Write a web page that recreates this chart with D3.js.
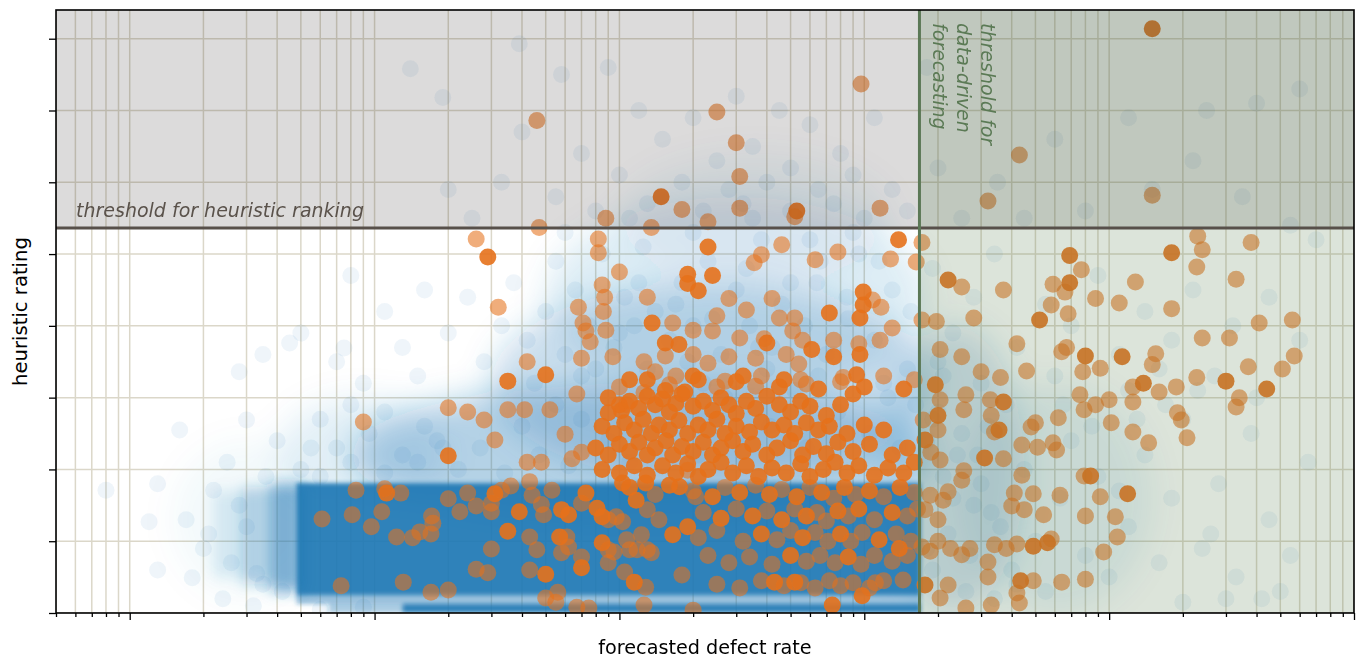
<!DOCTYPE html>
<html><head><meta charset="utf-8">
<script src="https://cdn.jsdelivr.net/npm/d3@7"></script>
<style>body{margin:0;background:#fff}svg{display:block}</style>
</head><body>
<svg id="chart" width="1362" height="659"></svg>
<script>
// ---------------- data ----------------
const xMajorTicks = [0.001, 0.01, 0.1, 1, 10, 100];
const yTicks = [0, 1, 2, 3, 4, 5, 6, 7, 8];
const heuristicThreshold = 5.363;
const dataDrivenThreshold = 1.68;
const xLabel = "forecasted defect rate";
const yLabel = "heuristic rating";
const heuristicText = "threshold for heuristic ranking";
const dataDrivenText = ["threshold for", "data-driven", "forecasting"];

// dense blue region (x0, x1, y0, y1, relative density)
const blueBand = [
  [0.0048, 1.7, 0.25, 1.81, 1.0],
  [0.013, 1.7, 0.0, 0.125, 1.0],
  [0.0048, 1.7, 0.125, 0.25, 0.5],
  [0.0065, 0.013, 0.0, 0.125, 0.4]
];
// fuzzy left edge of the dense region
const blueBandEdge = [
  [0.0038, 0.0052, 0.3, 1.8, 0.6],
  [0.0029, 0.0040, 0.4, 1.75, 0.32],
  [0.0022, 0.0031, 0.5, 1.7, 0.14]
];
// diffuse blue cloud (elliptic extents: x0, x1, y0, y1, relative density)
const blueHaze = [
  [0.008, 1.9, 1.2, 3.2, 0.36],
  [0.03, 1.9, 1.8, 4.6, 0.26],
  [0.05, 1.8, 3.0, 5.8, 0.14],
  [0.1, 1.3, 4.6, 6.4, 0.07],
  [1.2, 4.5, 0.0, 4.0, 0.22],
  [2.5, 15, 0.0, 3.2, 0.1],
  [0.0015, 0.006, 0.2, 2.4, 0.05],
  [0.004, 0.02, 1.4, 3.0, 0.12]
];
const blueFaint = [
  [0.014,7.58],[0.019,7.18],[0.039,7.93],[0.058,7.5],[0.09,7.6],[0.12,7.0],[0.2,6.9],[0.3,7.2],[0.45,7.0],[0.6,6.8],
  [0.15,6.6],[0.25,6.3],[0.35,6.5],[0.5,6.2],[0.8,6.4],[1.1,6.9],[0.07,6.4],[0.04,6.7],[0.1,6.1],[0.18,6.0],
  [0.28,5.9],[0.4,6.0],[0.65,5.9],[0.9,6.1],[1.3,5.9],[2.0,6.2],[3.5,6.0],[6,6.6],[12,6.9],[25,7.0],
  [40,7.1],[60,7.3],[1.8,7.6],[0.033,6.0],[0.055,5.8],[0.08,5.6],[0.13,5.7],[0.22,5.6],[0.32,5.7],[0.5,5.6],
  [0.75,5.7],[1.0,5.5],[1.5,5.6],[2.5,5.5],[4.5,5.5],[8,5.6],[15,5.9],[22,6.3],[35,5.8],[55,5.4],[70,5.2],[0.02,5.9],[0.025,5.5],
  [0.0035,3.6],[0.005,3.9],[0.007,3.5],[0.008,4.7],[0.011,4.2],[0.013,3.7],[0.016,4.5],[0.02,3.9],[0.024,4.4],[0.028,3.5],
  [0.033,4.0],[0.037,4.6],[0.042,3.8],[0.05,4.2],[0.055,4.9],[0.06,3.6],[0.066,4.5],[0.075,4.0],[0.085,5.0],[0.095,3.7],
  [0.105,4.4],[0.115,4.0],[0.125,5.1],[0.14,4.2],[0.16,3.8],[0.18,4.6],[0.2,4.0],[0.23,4.9],[0.26,3.6],[0.3,4.5],
  [0.34,4.0],[0.38,5.2],[0.42,3.7],[0.5,4.6],[0.57,4.0],[0.66,4.9],[0.75,3.6],[0.85,4.4],[0.95,5.0],[1.1,3.8],
  [1.3,4.5],[1.5,3.4],[1.9,4.8],[2.3,3.9],[2.8,4.4],[3.4,5.0],[4.2,3.7],[5.5,4.3],[7,4.0],[9,4.7],
  [11,3.6],[14,4.2],[18,3.8],[22,4.5],[27,3.3],[32,4.0],[45,4.4],[60,3.8],[0.009,3.2],[0.015,3.3],
  [0.045,3.2],[0.07,3.3],[0.13,3.4],[0.22,3.2],[0.4,3.4],[0.65,3.3],[1.2,3.2],[2.0,3.5],[3.0,3.2],[6,3.3],[12,3.1],[16,3.4],[40,3.0],
  [0.0008,1.71],[0.0012,1.27],[0.0016,2.55],[0.0018,0.49],[0.0022,1.71],[0.0028,3.36],[0.003,2.69],[0.0045,3.76],[0.0075,3.69],[0.0013,0.6],
  [0.002,0.9],[0.0025,2.1],[0.003,1.2],[0.0035,0.4],[0.004,2.4],[0.005,2.0],[0.006,2.7],[0.007,2.3],[0.008,2.9],[0.0095,2.5],
  [0.011,2.8],[0.013,2.2],[0.016,2.6],[0.019,2.3],[0.0013,1.8],[0.0017,1.3],[0.0024,0.2],[0.0032,0.1],[0.006,0.05],[0.009,0.08],[0.0055,2.3],
  [2.0,2.8],[2.4,2.2],[2.8,1.5],[3.2,2.6],[3.6,1.2],[4.0,0.6],[4.5,2.0],[5,1.0],[5.5,0.3],[6.3,1.6],
  [7,2.4],[8,0.8],[9,1.9],[10,0.5],[12,1.2],[14,2.2],[16,0.7],[18,1.6],[20,2.7],[24,0.9],
  [28,1.8],[33,0.5],[38,2.5],[45,1.3],[55,0.8],[65,2.1],[1.9,0.6],[2.2,1.1],[2.6,0.3],[3,1.8],
  [3.4,0.2],[1.8,2.4],[2.1,1.9],[2.5,2.5],[13,2.7],[17,2.9],[23,3.1],[8.5,2.6],[11,1.7],[6.5,2.9],[26,1.1],[30,0.2],[20,0.15],[50,0.3],[42,0.2],
  [0.022,2.0],[0.027,2.3],[0.034,1.95],[0.04,2.6],[0.047,2.2],[0.055,2.9],[0.062,2.05],[0.07,2.7],[0.08,3.4],[0.09,2.4],
  [0.1,3.9],[0.11,2.1],[0.12,4.6],[0.135,3.1],[0.15,2.6],[0.17,4.3],[0.19,3.5],[0.21,2.2],[0.24,4.1],[0.27,3.0],
  [0.3,2.4],[0.33,4.8],[0.37,3.7],[0.41,2.6],[0.46,4.3],[0.52,3.1],[0.58,2.3],[0.64,4.6],[0.7,3.6],[0.78,2.8],
  [0.86,4.1],[0.94,3.3],[1.05,2.5],[1.15,4.9],[1.25,3.0],[1.4,2.3],[1.55,4.2],[1.62,2.9],[0.011,1.95],[0.015,2.1],
  [0.018,2.4],[0.006,1.9],[0.008,2.1],[1.8,0.9],[1.9,2.7],[2.1,3.3],[2.3,1.6],[2.7,0.8],[2.9,2.2],[3.3,1.4],
  [3.8,2.9],[4.2,0.4],[0.06,5.3],[0.11,5.5],[0.2,5.3],[0.35,5.5],[0.6,5.2],[0.9,5.3],
  [0.0021,1.1],[0.0026,0.7],[0.0028,1.5],[0.0033,0.55],[0.0036,1.9],[0.0042,0.3]
];

const orangeStrong = [
  [15,8.14],[0.148,5.8],[0.53,5.6],
  [0.029,4.96],[0.23,5.1],[1.38,5.2],[6.9,4.98],[18,5.02],
  [0.19,4.72],[0.24,4.7],[0.21,4.49],[0.19,4.59],[0.99,4.47],[2.2,4.64],[6.9,4.6],
  [0.136,4.04],[0.72,4.18],[0.99,4.29],[0.96,4.11],[5.2,4.08],
  [0.035,3.23],[0.05,3.32],[0.11,3.25],[0.154,3.76],[0.175,3.74],[0.40,3.76],[0.61,3.67],[0.75,3.57],[0.96,3.6],[0.93,3.32],
  [0.47,3.25],[0.32,3.3],[0.21,3.25],[8,3.58],[11.3,3.57],[13.8,3.2],[30,3.23],[44,3.12],[1.95,3.18],
  [0.185,3.08],[0.154,3.1],[0.09,2.79],[0.102,2.82],[3.7,2.94],[2.0,2.75],
  [0.02,2.19],[3.55,2.55],[3.1,2.16],[1.77,2.41],
  [8.4,1.91],[11.9,1.66],
  [4.35,0.45],[4.9,0.93],[5.6,0.98],[1.77,0.39],[1.39,0.9],[0.98,0.24],[0.74,0.11],[0.43,0.43],[0.52,0.43],
  [0.0112,1.67],[0.031,1.66],[0.035,1.14],[0.039,1.41],[0.05,0.54],[0.058,1.44],[0.062,1.37],[0.057,1.06],[0.07,0.63],
  [0.073,1.67],[0.081,1.46],[0.085,1.34],[0.085,0.98],[0.115,0.43],[0.165,1.09],[0.19,1.2],[0.103,1.81],[0.117,1.57],[0.128,1.81],[0.176,1.76],
  [0.09,3.0],[0.1,2.9],[0.11,2.95],[0.12,2.85],[0.13,3.02],[0.14,2.9],[0.15,2.98],[0.16,2.8],[0.17,2.92],[0.18,3.05],
  [0.2,2.88],[0.22,2.95],[0.24,2.82],[0.26,3.0],[0.28,2.9],[0.3,2.78],[0.33,2.95],[0.36,2.85],[0.4,3.02],[0.45,2.9],
  [0.5,2.8],[0.55,2.95],[0.6,2.88],[0.7,2.75],[0.8,2.9],[0.9,3.05],
  [0.085,2.6],[0.095,2.5],[0.105,2.65],[0.115,2.55],[0.125,2.7],[0.135,2.5],[0.145,2.62],[0.16,2.55],[0.175,2.68],[0.19,2.5],
  [0.21,2.62],[0.23,2.55],[0.25,2.7],[0.27,2.5],[0.3,2.6],[0.34,2.52],[0.38,2.66],[0.42,2.55],[0.47,2.62],[0.52,2.5],
  [0.58,2.65],[0.65,2.55],[0.72,2.6],[0.85,2.5],[1.0,2.62],[1.2,2.55],
  [0.08,2.3],[0.09,2.2],[0.1,2.35],[0.11,2.25],[0.12,2.38],[0.13,2.2],[0.14,2.3],[0.155,2.4],[0.165,2.2],[0.18,2.32],
  [0.2,2.25],[0.22,2.38],[0.24,2.2],[0.26,2.3],[0.29,2.4],[0.32,2.25],[0.35,2.35],[0.4,2.2],[0.44,2.3],[0.5,2.4],
  [0.56,2.2],[0.62,2.32],[0.7,2.22],[0.78,2.38],[0.9,2.25],[1.05,2.35],[1.3,2.2],[1.5,2.3],
  [0.085,2.0],[0.1,1.95],[0.115,2.05],[0.13,1.92],[0.15,2.05],[0.17,1.95],[0.19,2.08],[0.21,1.9],[0.23,2.0],[0.26,2.1],
  [0.29,1.95],[0.33,2.05],[0.37,1.9],[0.42,2.02],[0.48,1.95],[0.55,2.08],[0.6,1.9],[0.68,2.0],[0.76,2.1],[0.85,1.95],
  [0.95,2.05],[1.1,1.92],[1.25,2.02],[1.45,1.95],[1.6,2.1],
  [0.11,1.75],[0.16,1.78],[0.24,1.62],[0.31,1.68],[0.41,1.65],[0.53,1.62],[0.67,1.68],[0.83,1.75],[1.05,1.7],[1.4,1.75],
  [0.26,1.32],[0.35,1.35],[0.46,1.3],[0.58,1.35],[0.78,1.42],[0.95,1.45],[1.3,1.4],
  [0.38,1.1],[0.56,1.05],[0.8,1.1],[1.15,1.02],[0.5,0.8],[0.86,0.78],
  [0.13,3.25],[0.2,3.3],[0.3,3.22],[0.45,3.15],[0.65,3.12],[1.0,3.15],[1.45,3.12]
];

const orangeFaint = [
  [0.97,7.37],[0.25,6.98],[0.046,6.86],[0.30,6.55],[0.31,6.08],[4.3,6.38],[0.31,5.64],[0.18,5.62],[0.52,5.52],[1.16,5.64],
  [3.2,5.74],[15,5.82],[0.088,5.5],[0.047,5.37],[0.135,5.37],[0.23,5.45],
  [0.026,5.21],[0.082,5.21],[0.082,5.02],[0.355,4.88],[0.38,4.99],[0.46,5.13],[0.63,4.92],[0.78,5.03],[1.28,4.93],[1.63,4.89],
  [1.72,5.16],[23,5.25],[38,5.16],[24,5.06],
  [0.10,4.75],[0.085,4.57],[0.13,4.4],[0.28,4.38],[0.42,4.38],[1.08,4.36],[2.5,4.54],[3.7,4.5],[7.7,4.78],[5.9,4.58],
  [12.8,4.61],[33,4.65],[22.8,4.82],[8.8,4.38],[6.6,4.47],[0.087,4.4],[0.032,4.26],
  [0.068,4.26],[0.071,4.04],[0.088,3.94],[0.086,4.2],[0.165,4.04],[0.20,3.94],[0.24,3.93],[0.25,4.14],[0.31,3.83],[0.33,4.22],
  [0.39,3.82],[0.45,4.11],[0.52,4.11],[0.51,3.93],[0.56,3.8],[0.75,3.8],[0.95,3.75],[1.16,3.8],[1.17,4.26],[1.3,3.97],
  [1.72,4.08],[1.97,4.06],[2.8,4.11],[11,4.32],[5.8,4.29],[6.8,4.17],[18,4.24],[41,4.04],[56,4.08],[24,3.83],[31,3.83],[0.073,3.93],[0.076,3.78],
  [0.042,3.5],[0.07,3.55],[0.094,3.57],[0.126,3.5],[0.14,3.36],[0.154,3.58],[0.2,3.6],[0.17,3.3],[0.23,3.48],[0.28,3.57],
  [0.36,3.55],[0.48,3.6],[0.54,3.47],[0.82,3.28],[2.04,3.67],[2.5,3.57],[3.0,3.36],[3.6,3.28],[4.6,3.37],[4.2,3.75],
  [6.4,3.64],[7.8,3.36],[9.2,3.41],[15.5,3.61],[15,3.46],[22.8,3.28],[37,3.43],[51,3.4],[57,3.58],[12.5,3.15],[18.8,3.15],[16,3.08],[6.7,3.7],
  [0.067,3.05],[0.020,2.86],[0.024,2.8],[0.028,2.69],[0.035,2.83],[0.041,2.83],[0.052,2.83],[0.009,2.66],[0.126,3.07],[0.107,2.9],
  [0.36,3.16],[0.27,3.23],[0.58,3.19],[2.04,2.97],[2.6,3.04],[2.55,2.83],[3.27,2.97],[3.3,2.75],[7.6,3.04],[7.9,2.83],
  [10,2.97],[8.8,2.9],[12.5,2.94],[34,3.0],[33,2.87],[19,2.79],[6.2,2.72],[1.74,2.69],
  [0.031,2.41],[0.042,2.1],[0.048,2.1],[0.06,2.49],[0.064,2.15],[0.07,2.24],[10.2,2.65],[12.5,2.52],[14.5,2.37],[19.7,2.69],
  [20.8,2.44],[5.9,2.37],[5.1,2.31],[5.0,2.65],[3.4,2.52],[4.4,2.34],[4.8,2.59],[6.1,2.27],[2.0,2.55],[1.87,2.24],[2.04,2.13],[3.7,2.15],
  [4.4,1.92],[7.9,1.91],[9.2,1.62],[6.3,1.64],[4.9,1.66],[4.1,1.67],[4.0,1.49],[4.5,1.44],[5.4,1.37],[8.0,1.35],
  [10.6,1.34],[2.5,1.85],[2.55,1.98],[2.2,1.69],[1.86,1.64],[1.77,1.44],[2.1,1.57],[2.0,1.3],
  [10.8,1.06],[9.5,0.85],[8.0,0.47],[6.4,0.43],[4.9,0.45],[5.8,1.03],[4.2,0.96],[3.8,0.9],[3.4,0.95],[3.2,0.5],
  [3.3,0.11],[4.3,0.14],[4.2,0.28],[3.2,0.71],[2.5,0.81],[2.25,0.9],[2.0,1.0],[1.86,0.86],[2.7,0.9],[2.2,0.39],
  [2.04,0.21],[2.6,0.07],[1.44,0.46],[1.11,0.42],[1.72,0.92],
  [0.0084,1.71],[0.011,1.73],[0.0128,1.67],[0.0061,1.31],[0.0081,1.37],[0.0097,1.2],[0.0107,1.41],[0.0123,1.06],[0.0143,1.05],[0.0153,1.13],
  [0.0171,1.35],[0.0173,1.25],[0.017,1.1],[0.0073,0.38],[0.0131,0.43],[0.017,0.29],[0.02,0.32],[0.02,1.59],[0.0223,1.41],[0.026,1.49],
  [0.03,1.41],[0.03,1.53],[0.024,1.67],[0.03,0.89],[0.026,0.61],[0.029,0.56],[0.043,1.83],[0.036,1.77],[0.033,1.71],[0.044,1.64],
  [0.048,1.51],[0.049,1.37],[0.043,1.06],[0.046,0.88],[0.043,0.6],[0.05,0.21],[0.056,0.29],[0.055,0.15],[0.053,1.71],[0.061,1.06],
  [0.058,0.84],[0.062,0.92],[0.07,0.78],[0.067,0.08],[0.075,0.07],[0.07,1.53],[0.09,1.3],[0.097,1.34],[0.103,1.27],[0.09,0.88],
  [0.095,0.85],[0.09,0.7],[0.105,0.57],[0.128,0.36],[0.126,0.11],[0.107,1.02],[0.11,0.88],[0.123,1.09],[0.118,0.88],[0.13,0.88],
  [0.135,0.84],[0.18,0.53],[0.2,0.04],[0.13,1.44],[0.145,1.3],[0.19,1.99],[0.205,1.62],
  [0.14,1.65],[0.2,1.7],[0.27,1.75],[0.36,1.78],[0.46,1.72],[0.6,1.75],[0.75,1.6],[0.92,1.65],[1.2,1.62],[1.6,1.68],
  [0.22,1.4],[0.3,1.45],[0.4,1.42],[0.52,1.45],[0.64,1.4],[0.7,1.28],[0.86,1.35],[1.1,1.3],[1.5,1.35],[1.65,1.45],
  [0.21,1.05],[0.25,1.15],[0.32,1.0],[0.44,1.02],[0.5,1.15],[0.63,1.12],[0.71,1.0],[0.88,1.0],[0.98,1.12],[1.35,1.1],[1.55,1.0],
  [0.23,0.8],[0.28,0.7],[0.34,0.78],[0.42,0.68],[0.58,0.72],[0.66,0.8],[0.76,0.7],[0.97,0.68],[1.1,0.8],[1.3,0.72],[1.5,0.8],
  [0.25,0.4],[0.31,0.35],[0.38,0.45],[0.47,0.38],[0.55,0.42],[0.63,0.35],[0.72,0.45],[0.8,0.38],[0.9,0.42],[1.05,0.35],[1.2,0.45],
  [0.1,3.15],[0.16,3.18],[0.25,3.15],[0.38,3.3],[0.55,3.25],[0.8,3.22],[1.2,3.3],[1.6,3.25]
];

// ---------------- layout ----------------
const L = 56, R = 1354, T = 10, B = 613;
const svg = d3.select("#chart");
const x = d3.scaleLog().domain([0.0005, 100]).range([L, R]);
const y = d3.scaleLinear().domain([0, 8.4]).range([B, T]);
const densityOpacity = d3.scaleLinear().domain([0, 1]).range([0, 0.92]);

const defs = svg.append("defs");
defs.append("clipPath").attr("id", "plot").append("rect")
  .attr("x", L).attr("y", T).attr("width", R - L).attr("height", B - T);
function blurFilter(id, sd) {
  defs.append("filter").attr("id", id).attr("filterUnits", "userSpaceOnUse")
    .attr("x", 0).attr("y", 0).attr("width", 1362).attr("height", 659)
    .append("feGaussianBlur").attr("stdDeviation", sd);
}
blurFilter("blurS", 2);
blurFilter("blurM", 7);
blurFilter("blurL", 16);

const plot = svg.append("g").attr("clip-path", "url(#plot)");

// grid
const allX = x.ticks();
const gridColor = "#dbd7c9";
plot.append("g").selectAll("line").data(allX).join("line")
  .attr("x1", d => x(d)).attr("x2", d => x(d)).attr("y1", T).attr("y2", B)
  .attr("stroke", gridColor).attr("stroke-width", 1.5);
plot.append("g").selectAll("line").data(yTicks).join("line")
  .attr("x1", L).attr("x2", R).attr("y1", d => y(d)).attr("y2", d => y(d))
  .attr("stroke", gridColor).attr("stroke-width", 1.5);

const blue = "#1f77b4";
function rects(g, data) {
  g.selectAll("rect").data(data).join("rect")
    .attr("x", d => x(d[0])).attr("width", d => x(d[1]) - x(d[0]))
    .attr("y", d => y(d[3])).attr("height", d => y(d[2]) - y(d[3]))
    .attr("fill", blue).attr("opacity", d => densityOpacity(d[4]));
}
// diffuse cloud
plot.append("g").attr("filter", "url(#blurL)").selectAll("ellipse").data(blueHaze).join("ellipse")
  .attr("cx", d => (x(d[0]) + x(d[1])) / 2).attr("rx", d => (x(d[1]) - x(d[0])) / 2)
  .attr("cy", d => (y(d[2]) + y(d[3])) / 2).attr("ry", d => (y(d[2]) - y(d[3])) / 2)
  .attr("fill", blue).attr("opacity", d => densityOpacity(d[4]));
rects(plot.append("g").attr("filter", "url(#blurM)"), blueBandEdge);
rects(plot.append("g").attr("filter", "url(#blurS)"), blueBand);
// faint blue points
plot.append("g").selectAll("circle").data(blueFaint).join("circle")
  .attr("cx", d => x(d[0])).attr("cy", d => y(d[1])).attr("r", 8.5)
  .attr("fill", blue).attr("fill-opacity", 0.07);

const orange = "#e5711b";
plot.append("g").selectAll("circle").data(orangeFaint).join("circle")
  .attr("cx", d => x(d[0])).attr("cy", d => y(d[1])).attr("r", 8.5)
  .attr("fill", orange).attr("fill-opacity", 0.58);
plot.append("g").selectAll("circle").data(orangeStrong).join("circle")
  .attr("cx", d => x(d[0])).attr("cy", d => y(d[1])).attr("r", 8.5)
  .attr("fill", orange).attr("fill-opacity", 0.9);

// shaded regions
plot.append("rect").attr("x", L).attr("width", R - L)
  .attr("y", y(8.4)).attr("height", y(heuristicThreshold) - y(8.4))
  .attr("fill", "#282020").attr("fill-opacity", 0.16);
plot.append("rect").attr("x", x(dataDrivenThreshold)).attr("width", R - x(dataDrivenThreshold))
  .attr("y", T).attr("height", B - T)
  .attr("fill", "#507846").attr("fill-opacity", 0.2);

// thresholds
plot.append("line").attr("x1", L).attr("x2", R)
  .attr("y1", y(heuristicThreshold)).attr("y2", y(heuristicThreshold))
  .attr("stroke", "#57504a").attr("stroke-width", 3);
plot.append("line").attr("x1", x(dataDrivenThreshold)).attr("x2", x(dataDrivenThreshold))
  .attr("y1", T).attr("y2", B)
  .attr("stroke", "#5b7856").attr("stroke-width", 3);

// threshold labels
const font = "DejaVu Sans, Liberation Sans, sans-serif";
svg.append("text").attr("x", 76).attr("y", y(heuristicThreshold) - 11)
  .attr("font-family", font).attr("font-size", 19).attr("font-style", "italic")
  .attr("fill", "#5a524b").text(heuristicText);
const vt = svg.append("text")
  .attr("transform", `translate(${x(dataDrivenThreshold) + 62},${T + 13}) rotate(90)`)
  .attr("font-family", font).attr("font-size", 19).attr("font-style", "italic")
  .attr("fill", "#5b7a55");
vt.selectAll("tspan").data(dataDrivenText).join("tspan")
  .attr("x", 0).attr("y", (d, i) => i * 24).text(d => d);

// axes
const minorX = allX.filter(d => !xMajorTicks.includes(d));
const ax = svg.append("g").attr("transform", `translate(0,${B})`);
ax.call(d3.axisBottom(x).tickValues(minorX).tickSize(4).tickFormat(""));
ax.select(".domain").remove();
const ax2 = svg.append("g").attr("transform", `translate(0,${B})`);
ax2.call(d3.axisBottom(x).tickValues(xMajorTicks).tickSize(7).tickFormat(""));
ax2.select(".domain").remove();
const ay = svg.append("g").attr("transform", `translate(${L},0)`);
ay.call(d3.axisLeft(y).tickValues(yTicks).tickSize(7).tickFormat(""));
ay.select(".domain").remove();
svg.selectAll(".tick line").attr("stroke", "#000").attr("stroke-width", 1.3);

// frame
svg.append("rect").attr("x", L).attr("y", T).attr("width", R - L).attr("height", B - T)
  .attr("fill", "none").attr("stroke", "#000").attr("stroke-width", 1.6);

// axis labels
svg.append("text").attr("x", (L + R) / 2).attr("y", 654).attr("text-anchor", "middle")
  .attr("font-family", font).attr("font-size", 19.2).attr("fill", "#000").text(xLabel);
svg.append("text").attr("transform", `translate(27,${(T + B) / 2}) rotate(-90)`).attr("text-anchor", "middle")
  .attr("font-family", font).attr("font-size", 19.6).attr("fill", "#000").text(yLabel);
</script>
</body></html>
